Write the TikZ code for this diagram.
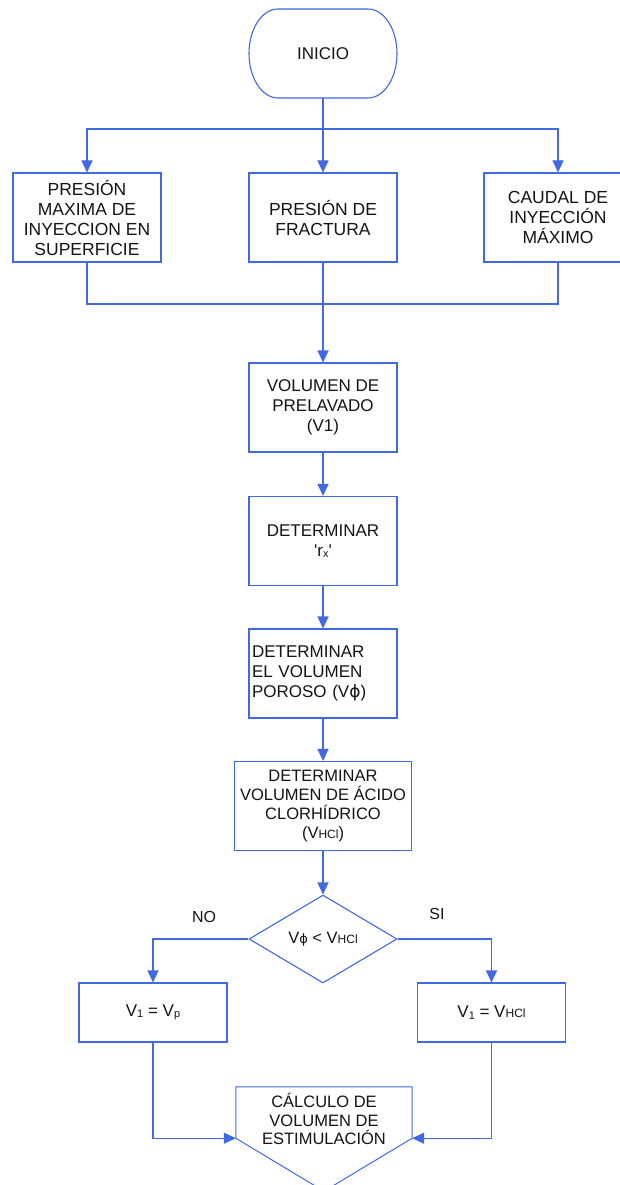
\documentclass[tikz,border=0pt]{standalone}
\usepackage{fontspec}
\setmainfont{Liberation Sans}
\newfontfamily\symf{DejaVu Sans}
\usetikzlibrary{shapes.geometric,arrows.meta,calc}
\definecolor{flow}{RGB}{65,105,225}
\definecolor{ink}{RGB}{20,20,20}
\newcommand\lowsub[1]{\raisebox{-1.5pt}{\fontsize{11}{11}\selectfont #1}}
\newcommand\smallsub[1]{{\fontsize{12}{12}\selectfont #1}}
\newcommand\phisym{{\symf ϕ}}
\begin{document}
\begin{tikzpicture}[x=1pt,y=-1pt,
  line/.style={draw=flow,line width=1.1pt},
  arr/.style={line,-{Triangle[width=11pt,length=12pt]}},
  boxnode/.style={draw=flow,line width=1.1pt,minimum width=148pt,minimum height=89pt,
    inner sep=2pt,align=center,text=ink,font=\fontsize{17.5}{20}\selectfont},
  lowbox/.style={boxnode,font=\fontsize{17}{20}\selectfont},
  eqbox/.style={boxnode,minimum height=59pt,font=\fontsize{17}{20}\selectfont},
  lbl/.style={text=ink,font=\fontsize{16}{19}\selectfont,inner sep=0pt}
]
\clip (0,0) rectangle (620,1185);
\fill[white] (0,0) rectangle (620,1185);

% start
\node[minimum width=148pt,minimum height=89pt,text=ink,font=\fontsize{17}{20}\selectfont] (inicio) at (323,53.5) {INICIO};
\draw[line] (278,9) -- (368,9) .. controls (384,9) and (397,28.9) .. (397,53.5)
  .. controls (397,78.1) and (384,98) .. (368,98) -- (278,98)
  .. controls (262,98) and (249,78.1) .. (249,53.5)
  .. controls (249,28.9) and (262,9) .. (278,9) -- cycle;

% top row
\node[boxnode] (b1) at (87,217.5) {PRESIÓN\\MAXIMA DE\\INYECCION EN\\SUPERFICIE};
\node[boxnode] (b2) at (323,217.5) {PRESIÓN DE\\FRACTURA};
\node[boxnode] (b3) at (558,217.5) {CAUDAL DE\\INYECCIÓN\\MÁXIMO};

\coordinate (split) at (323,129);
\coordinate (merge) at (323,304);
\draw[line] (inicio.south) -- (split);
\draw[arr] (split) -| (b1.north);
\draw[arr] (split) -- (b2.north);
\draw[arr] (split) -| (b3.north);

% column
\node[lowbox] (v1) at (323,407.5) {VOLUMEN DE\\PRELAVADO\\(V1)};
\node[lowbox] (rx) at (323,541) {DETERMINAR\\\textquotesingle r\lowsub{x}\textquotesingle};
\node[lowbox,align=left,text width=142pt,inner sep=3pt] (vp) at (323,673.5) {DETERMINAR\\EL VOLUMEN\\POROSO (V\phisym)};
\node[lowbox,minimum width=177pt,font=\fontsize{16.5}{19.3}\selectfont] (vhcl) at (323,806) {DETERMINAR\\VOLUMEN DE ÁCIDO\\CLORHÍDRICO\\(V\smallsub{HCl})};

\draw[line] (b1.south) |- (merge);
\draw[line] (b3.south) |- (merge);
\draw[arr] (b2.south) -- (v1.north);
\draw[arr] (v1.south) -- (rx.north);
\draw[arr] (rx.south) -- (vp.north);
\draw[arr] (vp.south) -- (vhcl.north);

% decision
\node[diamond,draw=flow,line width=1.1pt,aspect=1.68,inner sep=0pt,minimum width=148pt,minimum height=88pt,
  text=ink,font=\fontsize{16.5}{19}\selectfont] (dec) at (323,939) {V{\fontsize{13}{13}\symf ϕ} < V\smallsub{HCl}};
\draw[arr] (vhcl.south) -- (dec.north);

\node[lbl] (no) at (204,917) {NO};
\node[lbl] (si) at (437,914) {SI};

\node[eqbox] (bl) at (153,1012.5) {V\lowsub{1} = V\lowsub{p}};
\node[eqbox] (br) at (491.5,1012.5) {V\lowsub{1} = V\smallsub{HCl}};
\draw[arr] (dec.west) -| (bl.north);
\draw[arr] (dec.east) -| (br.north);

% off-page connector
\node[minimum width=176pt,minimum height=51pt,inner sep=0pt] (calc) at (324,1112.5) {};
\draw[line,line width=1pt] (calc.north west) -- (calc.north east) -- (calc.south east)
  -- ($(calc.south)+(0,53)$) -- (calc.south west) -- cycle;
\node[text=ink,font=\fontsize{16.5}{18.5}\selectfont,align=center,inner sep=0pt] (calctext) at (324,1119) {CÁLCULO DE\\VOLUMEN DE\\ESTIMULACIÓN};

\draw[arr] (bl.south) |- (calc.south west);
\draw[arr] (br.south) |- (calc.south east);
\end{tikzpicture}
\end{document}
